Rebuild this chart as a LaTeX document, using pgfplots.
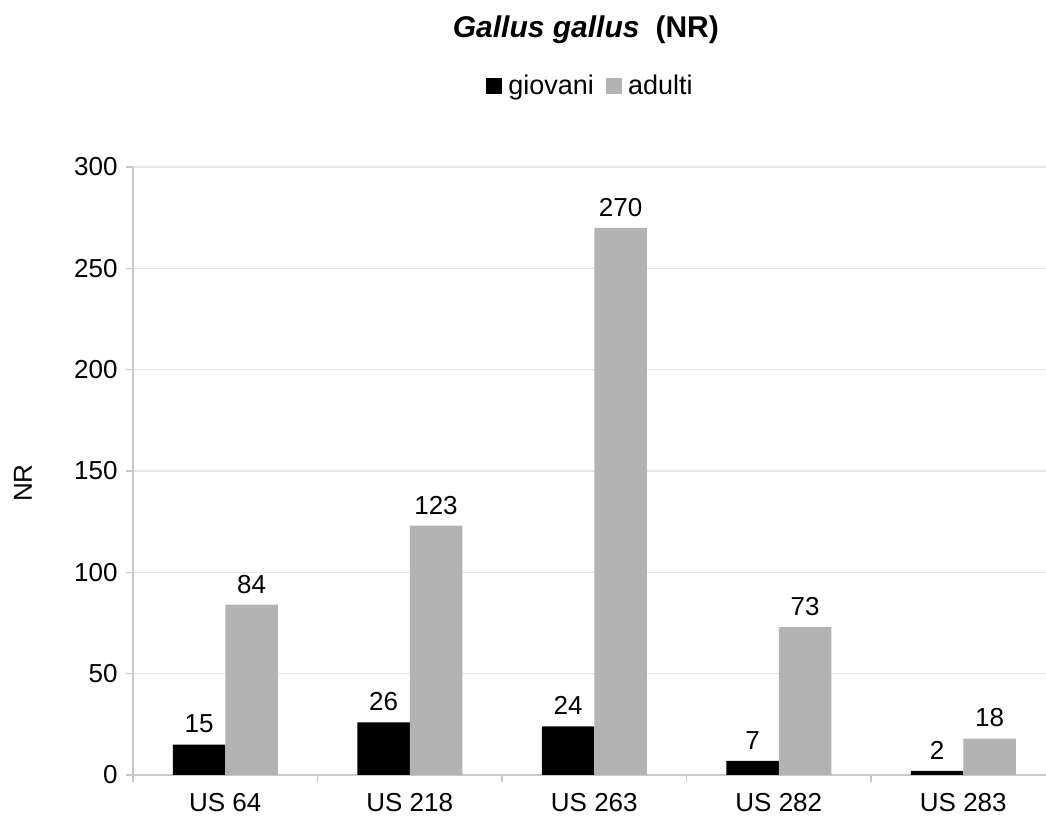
\documentclass[border=0pt]{standalone}
\usepackage{fontspec}
\setmainfont{Liberation Sans}
\usepackage{pgfplots}
\pgfplotsset{compat=1.18}
\definecolor{bargray}{HTML}{B3B3B3}
\definecolor{gridgray}{HTML}{E6E6E6}
\definecolor{axgray}{HTML}{C8C8C8}
\newcommand{\fs}{\fontsize{13}{15.6}\selectfont}
\begin{document}
\begin{tikzpicture}
\begin{axis}[
  at={(0pt,0pt)}, anchor=south west,
  scale only axis, width=456.5pt, height=304pt,
  xmin=-0.5, xmax=4.448, ymin=0, ymax=300,
  ybar=0pt, bar width=26.25pt,
  axis x line*=bottom, axis y line*=left,
  axis line style={draw=axgray, line width=0.6pt},
  xtick={0,1,2,3,4},
  xticklabels={US 64, US 218, US 263, US 282, US 283},
  major x tick style={draw=none},
  extra x ticks={-0.5,0.5,1.5,2.5,3.5},
  extra x tick labels={},
  extra x tick style={major tick length=3.5pt, tick align=outside, major x tick style={draw=axgray, line width=0.6pt}},
  ytick={0,50,...,300},
  ymajorgrids, grid style={draw=gridgray, line width=0.6pt},
  y tick style={draw=axgray, line width=0.6pt},
  ytick align=outside, major tick length=3.5pt,
  /pgf/number format/assume math mode=true,
  tick label style={font=\fs, text=black},
  xticklabel style={inner sep=0pt, anchor=north, yshift=-5.5pt},
  yticklabel style={inner sep=0pt, anchor=east, xshift=-4pt},
  ylabel={NR}, ylabel style={font=\fs, at={(axis description cs:-0.1205,0.48)}, anchor=center, inner sep=0pt},
  title={\fontsize{15}{18}\selectfont\textbf{\textit{Gallus gallus}}\hspace{8pt}\textbf{(NR)}},
  title style={at={(axis description cs:0.496,1.217)}, anchor=base, inner sep=0pt, yshift=-7pt},
  nodes near coords,
  every node near coord/.append style={font=\fs, color=black, inner sep=0pt, anchor=south, yshift=5.5pt},
  legend columns=2,
  legend style={draw=none, fill=none, font=\fontsize{13.5}{16}\selectfont, at={(axis description cs:0.5,1.133)}, anchor=center, inner sep=0pt,
    nodes={inner sep=0pt},
    /tikz/every odd column/.append style={column sep=3pt},
    /tikz/every even column/.append style={column sep=6pt}},
  legend image code/.code={\fill[#1] (0pt,-3.8pt) rectangle (8pt,4.1pt);},
]
\addplot[fill=black, draw=none] coordinates {(0,15) (1,26) (2,24) (3,7) (4,2)};
\addplot[fill=bargray, draw=none] coordinates {(0,84) (1,123) (2,270) (3,73) (4,18)};
\legend{giovani, adulti}
\end{axis}
\pgfresetboundingbox
\path[use as bounding box] (-66.5pt,-21pt) rectangle (456.5pt,387.5pt);
\end{tikzpicture}
\end{document}
